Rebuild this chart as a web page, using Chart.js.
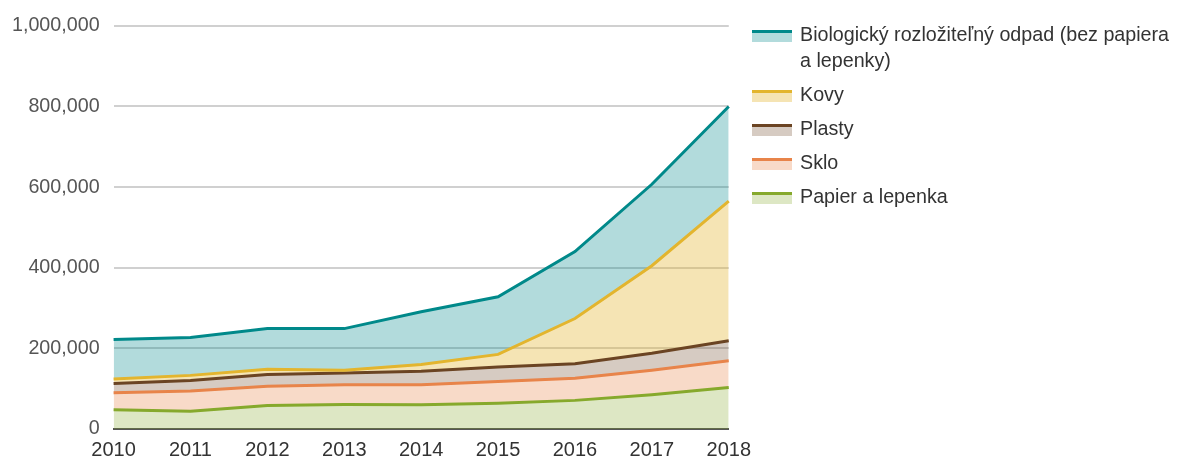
<!DOCTYPE html>
<html>
<head>
<meta charset="utf-8">
<script src="https://cdn.jsdelivr.net/npm/chart.js@4.4.0/dist/chart.umd.min.js"></script>
<style>
  html, body { margin: 0; padding: 0; background: #fff; }
  body { width: 1177px; height: 459px; position: relative; overflow: hidden;
         font-family: "Liberation Sans", Arial, sans-serif; }
  #wrap { position: absolute; left: 0; top: 0; width: 760px; height: 471px; }
  #legend { position: absolute; left: 752px; top: 21px; width: 425px; color: #333; font-size: 19.7px; }
  .item { display: flex; align-items: flex-start; margin-bottom: 8px; }
  .sw { width: 40px; flex: none; margin-top: 9px; margin-right: 8px; }
  .sw .ln { height: 3px; }
  .sw .bx { height: 9px; }
  .txt { line-height: 26px; width: 380px; }
</style>
</head>
<body>
<div id="wrap"><canvas id="chart"></canvas></div>
<div id="legend"></div>
<script>
// years on the x axis
const years = ['2010', '2011', '2012', '2013', '2014', '2015', '2016', '2017', '2018'];

// series labels (legend order, top to bottom)
const seriesNames = [
  'Biologický rozložiteľný odpad (bez papiera a lepenky)',
  'Kovy',
  'Plasty',
  'Sklo',
  'Papier a lepenka'
];

// upper edge of each band
const bioTop    = [222000, 227000, 249000, 249000, 291000, 328000, 440000, 607000, 800000];
const kovyTop   = [124000, 133000, 148000, 146000, 160000, 185000, 274000, 405000, 565000];
const plastyTop = [113000, 120000, 135000, 139000, 143000, 154000, 162000, 188000, 219000];
const skloTop   = [90000, 94000, 106000, 110000, 110000, 118000, 126000, 146000, 169000];
const papierTop = [48000, 44000, 58000, 61000, 60000, 64000, 71000, 85000, 103000];

const lineColors = ['#00898a', '#e3b52e', '#6b4423', '#e8844a', '#86a92c'];
const fillColors = ['rgba(0,137,138,0.30)', 'rgba(227,181,46,0.36)', 'rgba(107,68,35,0.28)',
                    'rgba(232,132,74,0.30)', 'rgba(134,169,44,0.28)'];

const values = [bioTop, kovyTop, plastyTop, skloTop, papierTop];

const datasets = seriesNames.map((name, i) => ({
  label: name,
  data: values[i],
  borderColor: lineColors[i],
  backgroundColor: fillColors[i],
  borderWidth: 3,
  pointRadius: 0,
  tension: 0,
  fill: i < seriesNames.length - 1 ? '+1' : 'origin'
}));

const chart = new Chart(document.getElementById('chart'), {
  type: 'line',
  data: { labels: years, datasets: datasets },
  options: {
    responsive: true,
    maintainAspectRatio: false,
    animation: false,
    layout: { padding: { top: 6, right: 4, left: -2, bottom: 0 } },
    plugins: {
      legend: { display: false },
      tooltip: { enabled: false },
      filler: { drawTime: 'beforeDatasetsDraw' }
    },
    scales: {
      x: {
        offset: false,
        grid: { display: false, drawTicks: false },
        border: { display: true, color: '#555', width: 2 },
        ticks: { color: '#333', font: { size: 20, family: '"Liberation Sans", Arial, sans-serif' }, padding: 9, maxRotation: 0 }
      },
      y: {
        min: 0,
        max: 1000000,
        grid: {
          drawTicks: false,
          color: ctx => (ctx.tick && ctx.tick.value % 200000 === 0) ? '#d0d0d0' : '#ececec',
          lineWidth: 2
        },
        border: { display: false },
        ticks: {
          stepSize: 100000,
          padding: 14,
          color: '#555',
          font: { size: 19.7, family: '"Liberation Sans", Arial, sans-serif' },
          callback: v => v % 200000 === 0 ? v.toLocaleString('en-US') : null
        }
      }
    }
  }
});

// html legend so the long label can wrap
const legend = document.getElementById('legend');
seriesNames.forEach((name, i) => {
  const item = document.createElement('div');
  item.className = 'item';
  item.innerHTML = '<div class="sw"><div class="ln" style="background:' + lineColors[i] +
    '"></div><div class="bx" style="background:' + fillColors[i] + '"></div></div>' +
    '<div class="txt"></div>';
  item.querySelector('.txt').textContent = name;
  legend.appendChild(item);
});
</script>
</body>
</html>
